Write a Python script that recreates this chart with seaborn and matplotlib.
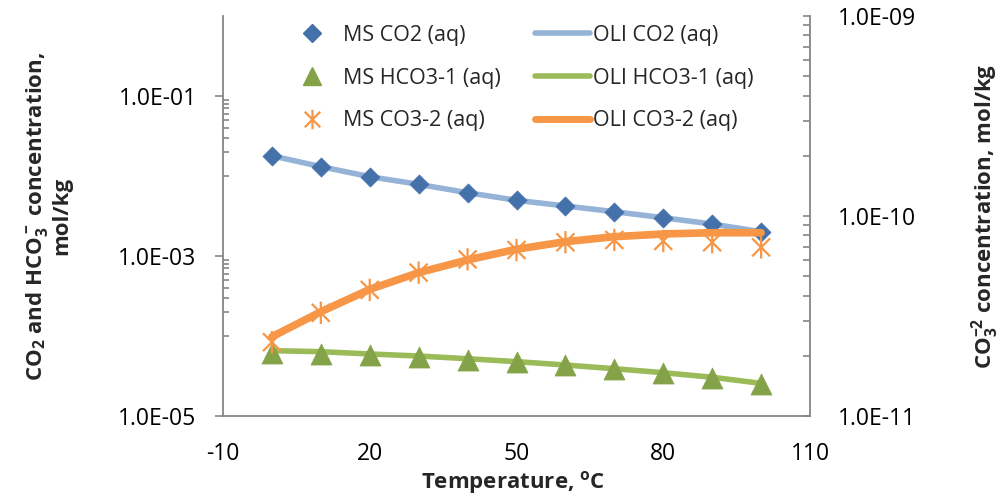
import numpy as np
import pandas as pd
import matplotlib
matplotlib.use("Agg")
import matplotlib.pyplot as plt
import seaborn as sns
from matplotlib.ticker import FixedLocator, FuncFormatter, LogLocator, NullFormatter
from matplotlib.path import Path
from matplotlib.lines import Line2D

# ---------------- data ----------------
temps = [0, 10, 20, 30, 40, 50, 60, 70, 80, 90, 100]

ms_co2 = [1.79e-2, 1.31e-2, 9.8e-3, 7.87e-3, 6.18e-3, 4.97e-3, 4.22e-3, 3.58e-3, 3.01e-3, 2.51e-3, 2.01e-3]
oli_co2 = [1.79e-2, 1.31e-2, 9.8e-3, 7.87e-3, 6.18e-3, 4.97e-3, 4.22e-3, 3.58e-3, 3.01e-3, 2.51e-3, 2.01e-3]

ms_hco3 = [6.18e-5, 6.01e-5, 5.74e-5, 5.42e-5, 5.06e-5, 4.69e-5, 4.30e-5, 3.87e-5, 3.42e-5, 2.96e-5, 2.49e-5]
oli_hco3 = [6.55e-5, 6.37e-5, 5.96e-5, 5.62e-5, 5.20e-5, 4.78e-5, 4.34e-5, 3.90e-5, 3.48e-5, 3.05e-5, 2.56e-5]

ms_co3 = [2.34e-11, 3.28e-11, 4.27e-11, 5.21e-11, 6.07e-11, 6.76e-11, 7.39e-11, 7.59e-11, 7.50e-11, 7.39e-11, 6.97e-11]
oli_co3 = [2.49e-11, 3.32e-11, 4.30e-11, 5.21e-11, 6.03e-11, 6.82e-11, 7.44e-11, 7.88e-11, 8.13e-11, 8.25e-11, 8.25e-11]

x_ticks = [-10, 20, 50, 80, 110]
left_major = [1e-5, 1e-3, 1e-1]
right_major = [1e-11, 1e-10, 1e-9]

labels_ms = ["MS CO2 (aq)", "MS HCO3-1 (aq)", "MS CO3-2 (aq)"]
labels_oli = ["OLI CO2 (aq)", "OLI HCO3-1 (aq)", "OLI CO3-2 (aq)"]

# ---------------- style ----------------
sns.set_style("white")
plt.rcParams["font.family"] = ["Open Sans", "DejaVu Sans"]
plt.rcParams["mathtext.fontset"] = "custom"
plt.rcParams["mathtext.rm"] = "Open Sans"
plt.rcParams["mathtext.bf"] = "Open Sans:bold"
plt.rcParams["mathtext.it"] = "Open Sans:italic"
plt.rcParams["axes.unicode_minus"] = False

c_blue_mk = "#4571AA"
c_blue_ln = "#95B3D7"
c_green_mk = "#84A349"
c_green_ln = "#9BBB59"
c_orange = "#F79646"
spine_c = "#868686"
text_c = "#000000"

fig = plt.figure(figsize=(10.03, 4.99), dpi=100)
ax = fig.add_axes([223 / 1003, 1 - 416 / 499, (810 - 223) / 1003, 400 / 499])
ax2 = ax.twinx()

df = pd.DataFrame({"T": temps, "ms_co2": ms_co2, "oli_co2": oli_co2,
                   "ms_hco3": ms_hco3, "oli_hco3": oli_hco3,
                   "ms_co3": ms_co3, "oli_co3": oli_co3})

# lines (left axis)
sns.lineplot(data=df, x="T", y="oli_co2", ax=ax, color=c_blue_ln, lw=4, legend=False, zorder=2)
sns.lineplot(data=df, x="T", y="oli_hco3", ax=ax, color=c_green_ln, lw=4, legend=False, zorder=2)
# markers (left axis)
sns.scatterplot(data=df, x="T", y="ms_co2", ax=ax, marker="D", s=95, color=c_blue_mk,
                edgecolor=c_blue_mk, linewidth=0.5, legend=False, zorder=3)
sns.scatterplot(data=df, x="T", y="ms_hco3", ax=ax, marker="^", s=230, color=c_green_mk,
                edgecolor=c_green_mk, linewidth=0.5, legend=False, zorder=3)

# asterisk marker like Excel's star
ast = Path([(0, -1), (0, 1), (-0.8, -0.8), (0.8, 0.8), (-0.8, 0.8), (0.8, -0.8)],
           [Path.MOVETO, Path.LINETO, Path.MOVETO, Path.LINETO, Path.MOVETO, Path.LINETO])

sns.scatterplot(data=df, x="T", y="ms_co3", ax=ax2, marker=ast, s=260, facecolor="none",
                edgecolor=c_orange, linewidth=1.6, legend=False, zorder=2)
sns.lineplot(data=df, x="T", y="oli_co3", ax=ax2, color=c_orange, lw=5.5, legend=False, zorder=3)

# ---------------- axes ----------------
ax.set_xlim(-10, 110)
ax.set_yscale("log")
ax.set_ylim(1e-5, 1)
ax2.set_yscale("log")
ax2.set_ylim(1e-11, 1e-9)

sci = FuncFormatter(lambda v, p: ("%.1E" % v))
ax.xaxis.set_major_locator(FixedLocator(x_ticks))
ax.yaxis.set_major_locator(FixedLocator(left_major))
ax.yaxis.set_major_formatter(sci)
left_minor = [k * 1e-4 for k in range(1, 10)] + [k * 1e-2 for k in range(1, 10)]
ax.yaxis.set_minor_locator(FixedLocator(left_minor))
ax.yaxis.set_minor_formatter(NullFormatter())

ax2.yaxis.set_major_locator(FixedLocator(right_major))
ax2.yaxis.set_major_formatter(sci)
ax2.yaxis.set_minor_locator(LogLocator(base=10, subs=np.arange(2, 10)))
ax2.yaxis.set_minor_formatter(NullFormatter())

for a in (ax, ax2):
    a.set_xlabel("")
    a.set_ylabel("")
    a.spines["top"].set_visible(False)
    for s in a.spines.values():
        s.set_color(spine_c)
        s.set_linewidth(1.3)
ax2.spines["left"].set_visible(False)
ax2.spines["bottom"].set_visible(False)
ax.spines["right"].set_visible(False)

ax.tick_params(axis="x", which="major", direction="in", length=5, width=1.2, color=spine_c,
               labelsize=16.5, pad=19, labelcolor=text_c)
ax.tick_params(axis="y", which="major", direction="out", length=6, width=1.2, color=spine_c,
               labelsize=16.5, pad=13, labelcolor=text_c)
ax.tick_params(axis="y", which="minor", direction="in", length=4.3, width=1.2, color=spine_c)
ax2.tick_params(axis="y", which="major", direction="in", length=5, width=1.2, color=spine_c,
                labelsize=16.5, pad=20, labelcolor=text_c)
ax2.tick_params(axis="y", which="minor", direction="in", length=5, width=1.2, color=spine_c)

# axis titles
fig.text(513 / 1003, 1 - 482 / 499, r"Temperature, $\mathbf{^o}$C", ha="center", va="center",
         fontsize=16, fontweight="bold")
fig.text(48 / 1003, 1 - 216 / 499,
         "CO$\\mathbf{_2}$ and HCO$\\mathbf{_3^-}$ concentration,\nmol/kg",
         ha="center", va="center", rotation=90, fontsize=16, fontweight="bold",
         linespacing=1.05)
fig.text(985 / 1003, 1 - 216 / 499,
         "CO$\\mathbf{_3^{-2}}$ concentration, mol/kg",
         ha="center", va="center", rotation=90, fontsize=16, fontweight="bold")

# ---------------- legends ----------------
ms_handles = [
    Line2D([], [], ls="none", marker="D", ms=9.5, color=c_blue_mk),
    Line2D([], [], ls="none", marker="^", ms=13, color=c_green_mk),
    Line2D([], [], ls="none", marker=ast, ms=14, mfc="none", mec=c_orange, mew=1.6),
]
oli_handles = [
    Line2D([], [], color=c_blue_ln, lw=4),
    Line2D([], [], color=c_green_ln, lw=4),
    Line2D([], [], color=c_orange, lw=5),
]
leg_kw = dict(frameon=False, fontsize=15.5, loc="upper left", borderpad=0, borderaxespad=0,
              labelspacing=1.0, handletextpad=0.15, handlelength=2.55,
              bbox_transform=fig.transFigure)
leg1 = ax2.legend(ms_handles, labels_ms, bbox_to_anchor=(285 / 1003, 1 - 25 / 499), **leg_kw)
ax2.add_artist(leg1)
leg2 = ax2.legend(oli_handles, labels_oli, bbox_to_anchor=(535 / 1003, 1 - 25 / 499), **leg_kw)

fig.savefig("out.png", dpi=100, facecolor="white")
